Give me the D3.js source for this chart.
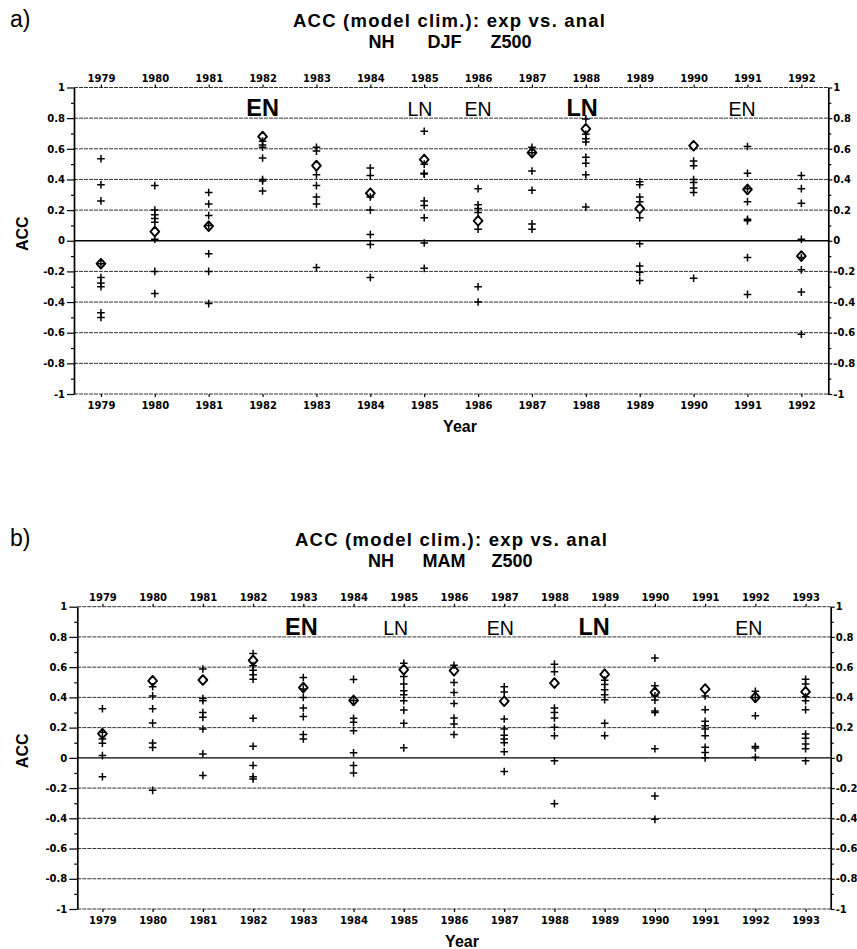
<!DOCTYPE html>
<html>
<head>
<meta charset="utf-8">
<script src="https://cdn.jsdelivr.net/npm/d3@7"></script>
<style>
  body { margin: 0; background: #fff; }
  svg { display: block; }
</style>
</head>
<body>
<svg id="chart" width="857" height="949"></svg>
<script>
// ---------- data: winter (DJF) ----------
const yearsDJF = d3.range(1979, 1993);
const ensMeanDJF = [-0.15, 0.06, 0.095, 0.68, 0.49, 0.31, 0.53, 0.13, 0.575, 0.73, 0.21, 0.62, 0.335, -0.10];
const membersDJF = [
  [0.535, 0.365, 0.26, -0.15, -0.24, -0.275, -0.30, -0.47, -0.50],
  [0.36, 0.20, 0.17, 0.145, 0.12, 0.01, -0.20, -0.345],
  [0.315, 0.24, 0.165, 0.10, -0.085, -0.20, -0.41],
  [0.65, 0.625, 0.61, 0.54, 0.40, 0.39, 0.325],
  [0.61, 0.585, 0.43, 0.36, 0.285, 0.24, -0.175],
  [0.475, 0.425, 0.285, 0.20, 0.04, -0.025, -0.24],
  [0.715, 0.50, 0.44, 0.435, 0.26, 0.23, 0.15, -0.015, -0.18],
  [0.34, 0.235, 0.21, 0.185, 0.075, -0.30, -0.40],
  [0.61, 0.575, 0.455, 0.33, 0.11, 0.075],
  [0.795, 0.695, 0.665, 0.645, 0.545, 0.505, 0.43, 0.22],
  [0.385, 0.365, 0.285, 0.255, 0.15, -0.02, -0.165, -0.205, -0.26],
  [0.52, 0.49, 0.40, 0.38, 0.345, 0.315, -0.245],
  [0.615, 0.44, 0.34, 0.255, 0.14, 0.13, -0.11, -0.35],
  [0.425, 0.34, 0.245, 0.01, -0.11, -0.19, -0.335, -0.61]
];
const ensoDJF = [
  { label: "EN", year: 1982, strong: true },
  { label: "LN", year: 1984.92, strong: false },
  { label: "EN", year: 1986, strong: false },
  { label: "LN", year: 1987.93, strong: true },
  { label: "EN", year: 1990.9, strong: false }
];

// ---------- data: spring (MAM) ----------
const yearsMAM = d3.range(1979, 1994);
const ensMeanMAM = [0.16, 0.51, 0.515, 0.645, 0.465, 0.38, 0.583, 0.577, 0.375, 0.495, 0.553, 0.433, 0.455, 0.40, 0.437];
const membersMAM = [
  [0.325, 0.17, 0.125, 0.097, 0.015, -0.125],
  [0.47, 0.41, 0.325, 0.23, 0.098, 0.068, -0.215],
  [0.588, 0.393, 0.378, 0.30, 0.268, 0.191, 0.026, -0.116],
  [0.69, 0.61, 0.58, 0.55, 0.52, 0.262, 0.077, -0.05, -0.125, -0.14],
  [0.532, 0.455, 0.40, 0.33, 0.273, 0.154, 0.125],
  [0.519, 0.38, 0.262, 0.235, 0.18, 0.033, -0.05, -0.10],
  [0.626, 0.538, 0.488, 0.444, 0.418, 0.378, 0.316, 0.229, 0.066],
  [0.613, 0.499, 0.433, 0.36, 0.264, 0.224, 0.154],
  [0.47, 0.435, 0.257, 0.191, 0.15, 0.125, 0.10, 0.04, -0.09],
  [0.62, 0.569, 0.33, 0.30, 0.264, 0.202, 0.147, -0.02, -0.303],
  [0.514, 0.486, 0.45, 0.417, 0.385, 0.229, 0.147],
  [0.66, 0.477, 0.41, 0.382, 0.31, 0.30, 0.06, -0.253, -0.407],
  [0.41, 0.319, 0.242, 0.213, 0.191, 0.147, 0.07, 0.035, 0.0],
  [0.44, 0.40, 0.279, 0.075, 0.065, 0.004],
  [0.52, 0.488, 0.404, 0.378, 0.319, 0.158, 0.13, 0.092, 0.06, -0.02]
];
const ensoMAM = [
  { label: "EN", year: 1982.96, strong: true },
  { label: "LN", year: 1984.84, strong: false },
  { label: "EN", year: 1986.92, strong: false },
  { label: "LN", year: 1988.79, strong: true },
  { label: "EN", year: 1991.87, strong: false }
];

// ---------- axis ticks ----------
const majorTicks = [-1, -0.8, -0.6, -0.4, -0.2, 0, 0.2, 0.4, 0.6, 0.8, 1];
const minorTicks = [-0.9, -0.7, -0.5, -0.3, -0.1, 0.1, 0.3, 0.5, 0.7, 0.9];
const gridLevels = [-1, -0.8, -0.6, -0.4, -0.2, 0, 0.2, 0.4, 0.6, 0.8, 1];

const TICK_FONT = "'DejaVu Sans', sans-serif";
const TEXT_FONT = "'Liberation Sans', Arial, sans-serif";
const fmtACC = d => d === 0 ? "0" : (Number.isInteger(d) ? String(d) : d.toFixed(1));

const svg = d3.select("#chart");

function drawPanel(cfg) {
  const g = svg.append("g");
  const x = d3.scaleLinear()
    .domain([cfg.years[0] - 0.5, cfg.years[cfg.years.length - 1] + 0.5])
    .range([cfg.left, cfg.right]);
  const y = d3.scaleLinear().domain([-1, 1]).range([cfg.bottom, cfg.top]);

  // panel letter and two-line title
  g.append("text").attr("x", 10).attr("y", cfg.titleY)
    .attr("font-family", TEXT_FONT).attr("font-size", 23).text(cfg.letter);
  g.append("text").attr("x", cfg.titleX).attr("y", cfg.titleY)
    .attr("text-anchor", "middle").attr("font-family", TEXT_FONT)
    .attr("font-weight", "bold").attr("font-size", 18.5)
    .attr("textLength", 312).attr("lengthAdjust", "spacing")
    .text("ACC (model clim.): exp vs. anal");
  cfg.subtitle.forEach(s => {
    g.append("text").attr("x", s.x).attr("y", cfg.titleY + 21)
      .attr("text-anchor", "middle").attr("font-family", TEXT_FONT)
      .attr("font-weight", "bold").attr("font-size", 18).text(s.text);
  });

  // horizontal reference lines
  g.append("g").selectAll("line").data(gridLevels).join("line")
    .attr("x1", cfg.left).attr("x2", cfg.right)
    .attr("y1", d => y(d)).attr("y2", d => y(d))
    .attr("stroke", d => d === 0 ? "#000" : "#333")
    .attr("stroke-width", d => d === 0 ? 1.3 : 1)
    .attr("stroke-dasharray", d => d === 0 ? null : "4,1");

  const styleAxis = sel => {
    sel.attr("font-family", TICK_FONT).attr("font-size", 10).attr("font-weight", "bold");
    sel.selectAll("text").attr("fill", "#000");
    sel.selectAll("line").attr("stroke", "#000").attr("stroke-width", 1.2);
  };

  // left / right value axes
  g.append("g").attr("transform", `translate(${cfg.left},0)`)
    .call(d3.axisLeft(y).tickValues(majorTicks).tickFormat(fmtACC)
      .tickSize(cfg.tickL).tickSizeOuter(0).tickPadding(2))
    .call(styleAxis)
    .call(a => a.select(".domain").attr("stroke", "#000").attr("stroke-width", 1.7));
  g.append("g").attr("transform", `translate(${cfg.left},0)`)
    .call(d3.axisLeft(y).tickValues(minorTicks).tickFormat("").tickSize(3))
    .call(styleAxis).call(a => a.select(".domain").remove());
  g.append("g").attr("transform", `translate(${cfg.right},0)`)
    .call(d3.axisRight(y).tickValues(majorTicks).tickFormat(fmtACC)
      .tickSize(4).tickSizeOuter(0).tickPadding(1))
    .call(styleAxis)
    .call(a => a.select(".domain").attr("stroke", "#000").attr("stroke-width", 1.7));
  g.append("g").attr("transform", `translate(${cfg.right},0)`)
    .call(d3.axisRight(y).tickValues(minorTicks).tickFormat("").tickSize(3))
    .call(styleAxis).call(a => a.select(".domain").remove());

  // year axes on top and bottom
  g.append("g").attr("transform", `translate(0,${cfg.top})`)
    .call(d3.axisTop(x).tickValues(cfg.years).tickFormat(d3.format("d"))
      .tickSize(3).tickPadding(3))
    .call(styleAxis).call(a => a.select(".domain").remove());
  g.append("g").attr("transform", `translate(0,${cfg.bottom})`)
    .call(d3.axisBottom(x).tickValues(cfg.years).tickFormat(d3.format("d"))
      .tickSize(3).tickPadding(5))
    .call(styleAxis).call(a => a.select(".domain").remove());

  // axis titles
  g.append("text")
    .attr("transform", `translate(28,${(cfg.top + cfg.bottom) / 2 - 7}) rotate(-90)`)
    .attr("text-anchor", "middle").attr("font-family", TEXT_FONT)
    .attr("font-weight", "bold").attr("font-size", 16).text("ACC");
  g.append("text").attr("x", cfg.yearX).attr("y", cfg.bottom + 38)
    .attr("text-anchor", "middle").attr("font-family", TEXT_FONT)
    .attr("font-weight", "bold").attr("font-size", 16).text("Year");

  // El Nino / La Nina markers
  g.append("g").selectAll("text").data(cfg.enso).join("text")
    .attr("x", d => x(d.year)).attr("y", y(0.8) - 2)
    .attr("text-anchor", "middle").attr("font-family", TEXT_FONT)
    .attr("font-weight", d => d.strong ? "bold" : "normal")
    .attr("font-size", d => d.strong ? 23.5 : 19.5)
    .text(d => d.label);

  // ensemble mean (diamonds)
  const dw = 4.4, dh = 4.9;
  g.append("g").selectAll("path").data(cfg.years.map((yr, i) => ({ year: yr, v: cfg.mean[i] })))
    .join("path")
    .attr("transform", d => `translate(${x(d.year)},${y(d.v)})`)
    .attr("d", `M0,${-dh}L${dw},0L0,${dh}L${-dw},0Z`)
    .attr("fill", "#fff").attr("stroke", "#000").attr("stroke-width", 1.9)
    .attr("stroke-linejoin", "round");

  // individual members (crosses)
  const pts = cfg.members.flatMap((vals, i) => vals.map(v => ({ year: cfg.years[i], v })));
  const c = 3.8;
  g.append("g").selectAll("path").data(pts).join("path")
    .attr("transform", d => `translate(${x(d.year)},${y(d.v)})`)
    .attr("d", `M${-c},0H${c}M0,${-c}V${c}`)
    .attr("stroke", "#000").attr("stroke-width", 1.5).attr("fill", "none");
}

drawPanel({
  letter: "a)", titleY: 27, titleX: 449,
  subtitle: [{ text: "NH", x: 381.5 }, { text: "DJF", x: 444.5 }, { text: "Z500", x: 511 }],
  years: yearsDJF, mean: ensMeanDJF, members: membersDJF, enso: ensoDJF,
  left: 74, right: 828.3, top: 87.5, bottom: 394, tickL: 7, yearX: 460
});

drawPanel({
  letter: "b)", titleY: 546, titleX: 451,
  subtitle: [{ text: "NH", x: 381 }, { text: "MAM", x: 444 }, { text: "Z500", x: 512 }],
  years: yearsMAM, mean: ensMeanMAM, members: membersMAM, enso: ensoMAM,
  left: 77.3, right: 830.7, top: 606.7, bottom: 909, tickL: 8, yearX: 462
});
</script>
</body>
</html>
